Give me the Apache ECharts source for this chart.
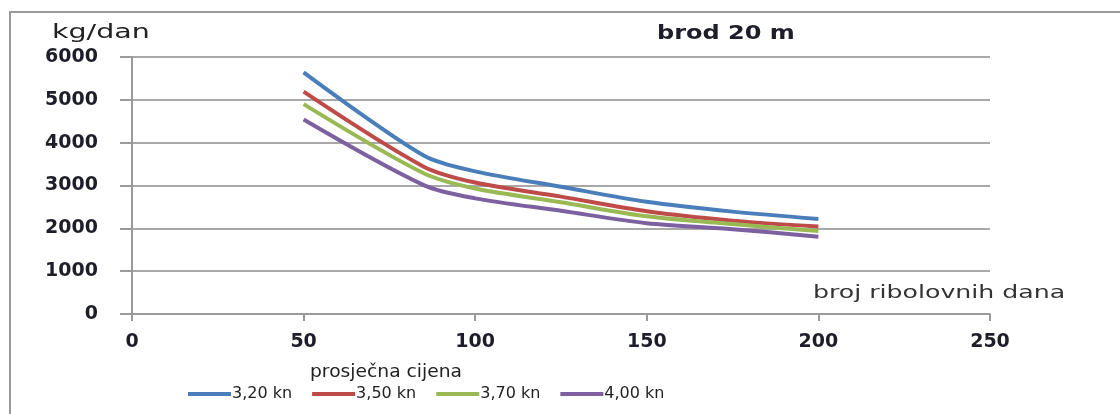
<!DOCTYPE html>
<html>
<head>
<meta charset="utf-8">
<script src="https://cdn.jsdelivr.net/npm/echarts@6/dist/echarts.min.js"></script>
<style>
html,body{margin:0;padding:0;background:#fff;}
#c{width:1120px;height:414px;}
</style>
</head>
<body>
<div id="c"></div>
<script>
// ---- data ----
const days = [50, 85, 100, 125, 150, 175, 200];
const seriesNames = ['3,20 kn', '3,50 kn', '3,70 kn', '4,00 kn'];
const s320 = [5640, 3700, 3330, 2970, 2620, 2390, 2220];
const s350 = [5190, 3440, 3070, 2740, 2400, 2180, 2040];
const s370 = [4900, 3285, 2930, 2610, 2280, 2100, 1935];
const s400 = [4540, 3010, 2700, 2410, 2120, 1980, 1805];
const xTicks = [0, 50, 100, 150, 200, 250];
const yTicks = [0, 1000, 2000, 3000, 4000, 5000, 6000];
const titleText = 'brod 20 m';
const yName = 'kg/dan';
const xName = 'broj ribolovnih dana';
const legendTitle = 'prosječna cijena';

const colors = ['#4A7EBB', '#BE4B48', '#98B954', '#7D60A0'];
const allSeries = [s320, s350, s370, s400];

const chart = echarts.init(document.getElementById('c'), null, {renderer: 'canvas'});
const FONT = '"DejaVu Sans", sans-serif';

const option = {
  animation: false,
  backgroundColor: '#fff',
  color: colors,
  grid: {left: 132, right: 130, top: 57, bottom: 100, containLabel: false},
  xAxis: {
    type: 'value',
    min: xTicks[0], max: xTicks[xTicks.length - 1], interval: 50,
    axisLine: {show: true, lineStyle: {color: '#9a9a9a', width: 2}},
    axisTick: {show: true, length: 7, lineStyle: {color: '#9a9a9a', width: 2}},
    splitLine: {show: false},
    axisLabel: {margin: 19, fontFamily: FONT, fontSize: 19, fontWeight: 'bold', color: '#1e1e2a',
      formatter: v => String(v)}
  },
  yAxis: {
    type: 'value',
    min: yTicks[0], max: yTicks[yTicks.length - 1], interval: 1000,
    axisLine: {show: true, lineStyle: {color: '#9a9a9a', width: 2}},
    axisTick: {show: true, length: 12, lineStyle: {color: '#9a9a9a', width: 2}},
    splitLine: {show: true, lineStyle: {color: '#a8a8a8', width: 2}},
    axisLabel: {margin: 34, fontFamily: FONT, fontSize: 19, fontWeight: 'bold', color: '#1e1e2a',
      formatter: v => String(v)}
  },
  legend: {
    left: 183, top: 381,
    itemWidth: 43, itemHeight: 4, itemGap: 20,
    icon: 'rect',
    textStyle: {fontFamily: FONT, fontSize: 16, color: '#222', padding: [0, 0, 0, -4]},
    data: seriesNames
  },
  series: allSeries.map((vals, i) => ({
    name: seriesNames[i],
    type: 'line',
    smooth: 0.3,
    symbol: 'none',
    lineStyle: {width: 4, color: colors[i]},
    itemStyle: {color: colors[i]},
    data: days.map((d, j) => [d, vals[j]])
  })),
  graphic: [
    {type: 'rect', z: -1, shape: {x: 10, y: 12, width: 1300, height: 600}, style: {fill: 'none', stroke: '#9a9a9a', lineWidth: 2}},
    {type: 'text', x: 657, y: 24, scaleX: 1.2, style: {text: titleText, font: 'bold 20px ' + FONT, fill: '#1e1e2a', textVerticalAlign: 'top'}},
    {type: 'text', x: 52, y: 24, scaleX: 1.5, style: {text: yName, font: '19px ' + FONT, fill: '#222', textVerticalAlign: 'top'}},
    {type: 'text', x: 813, y: 284, scaleX: 1.4, style: {text: xName, font: '18px ' + FONT, fill: '#333', textVerticalAlign: 'top'}},
    {type: 'text', x: 310, y: 364, scaleX: 1.1, style: {text: legendTitle, font: '17px ' + FONT, fill: '#222', textVerticalAlign: 'top'}}
  ]
};
chart.setOption(option);
</script>
</body>
</html>
